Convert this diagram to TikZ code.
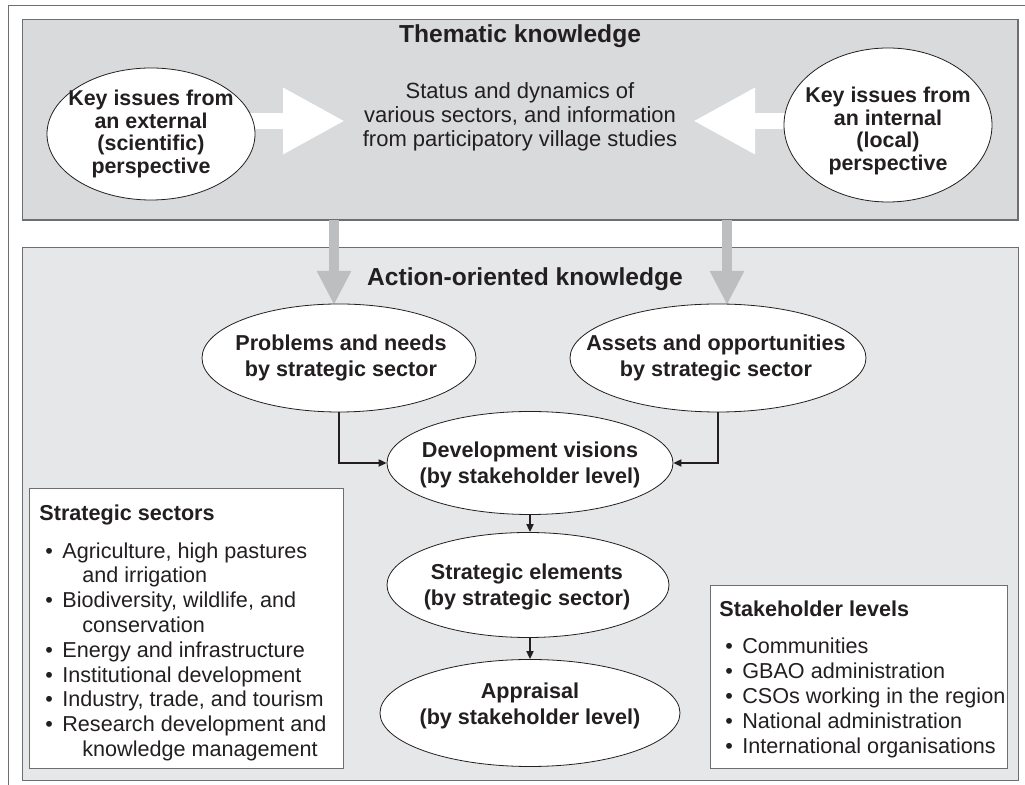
\documentclass[tikz,border=0pt]{standalone}
\usepackage{fontspec}
\setmainfont{Liberation Sans}
\usetikzlibrary{arrows.meta,shapes.geometric}

\definecolor{themfill}{HTML}{D9DADB}
\definecolor{actfill}{HTML}{E6E7E8}
\definecolor{flowgray}{HTML}{BCBEC0}
\definecolor{framegray}{HTML}{6D6E71}
\definecolor{inkdark}{HTML}{231F20}

\newcommand{\bul}{\makebox[8.5pt][l]{\textbullet}}
\newcommand{\cont}{\hspace*{18.5pt}}

\tikzset{
  panel/.style={draw=framegray, line width=0.6pt, inner sep=0pt, anchor=north west},
  bubble/.style={ellipse, draw=inkdark, fill=white, line width=0.4pt, inner sep=0pt},
  bubbletext/.style={align=center, inner sep=0pt, text=inkdark, font=\bfseries\fontsize{10.8pt}{13pt}\selectfont},
  keytext/.style={bubbletext, font=\bfseries\fontsize{10.7pt}{11.4pt}\selectfont},
  heading/.style={text=inkdark, font=\bfseries\fontsize{12.3pt}{14pt}\selectfont},
  listbox/.style={draw=framegray, fill=white, line width=0.5pt, inner sep=0pt, anchor=north west},
  listtext/.style={anchor=north west, align=left, inner sep=0pt, text=inkdark, font=\fontsize{10.8pt}{12.4pt}\selectfont},
  flow/.style={inkdark, line width=0.9pt, -{Triangle[length=4pt,width=3.5pt]}},
  bigflow/.style={flowgray, line width=5pt, -{Triangle[length=17pt,width=16pt]}},
  blockflow/.style={white, line width=8pt, -{Triangle[length=31pt,width=31pt]}},
}

\begin{document}
\begin{tikzpicture}[x=0.5pt, y=-0.5pt]
\useasboundingbox (0,0) rectangle (1025,785);
\draw[framegray, line width=0.5pt] (8,790) -- (8,6) -- (1030,6);

% panels
\node[panel, fill=themfill, minimum width=497.5pt, minimum height=100pt] (thematic) at (22,19) {};
\draw[framegray, line width=1.1pt] (thematic.south west) -- (thematic.south east) -- (thematic.north east);
\node[panel, fill=actfill, minimum width=498pt, minimum height=266.5pt] (action) at (22,247) {};
\node[heading] (themtitle) at (520,36) {Thematic knowledge};
\node[heading] (acttitle) at (525,279) {Action-oriented knowledge};

% thematic knowledge
\coordinate (extpos) at (151,134);
\coordinate (intpos) at (888,125);
\coordinate (exttip) at (345,121);
\coordinate (inttip) at (693,121);
\draw[blockflow] (extpos |- exttip) -- (exttip);
\draw[blockflow] (intpos |- inttip) -- (inttip);
\node[bubble, minimum width=104pt, minimum height=66pt] (external) at (extpos) {};
\node[keytext] (externaltext) at (151,134)
  {Key issues from\\an external\\(scientific)\\perspective};
\node[bubble, minimum width=104pt, minimum height=77pt] (internal) at (intpos) {};
\node[keytext] (internaltext) at (888,131)
  {Key issues from\\an internal\\(local)\\perspective};
\node[align=center, text=inkdark, font=\fontsize{11pt}{12pt}\selectfont] (status) at (520,117)
  {Status and dynamics of\\various sectors, and information\\from participatory village studies};

% action-oriented knowledge
\coordinate (probsin) at (334,305);
\coordinate (assetsin) at (727,305);
\draw[bigflow] (thematic.south -| probsin) -- (probsin);
\draw[bigflow] (thematic.south -| assetsin) -- (assetsin);

\node[bubble, minimum width=137pt, minimum height=54pt] (problems) at (339,358) {};
\node[bubbletext] (problemstext) at (341,358) {Problems and needs\\by strategic sector};
\node[bubble, minimum width=148pt, minimum height=54pt] (assets) at (718,358) {};
\node[bubbletext] (assetstext) at (716,358) {Assets and opportunities\\by strategic sector};
\node[bubble, minimum width=143pt, minimum height=51.5pt] (visions) at (530,463) {};
\node[bubbletext] (visionstext) at (530,465) {Development visions\\(by stakeholder level)};
\node[bubble, minimum width=141pt, minimum height=52.5pt] (elements) at (528,585) {};
\node[bubbletext] (elementstext) at (527,587) {Strategic elements\\(by strategic sector)};
\node[bubble, minimum width=150pt, minimum height=53.5pt] (appraisal) at (530,713) {};
\node[bubbletext] (appraisaltext) at (530,706) {Appraisal\\(by stakeholder level)};

\draw[flow] (problems.south) |- (visions.west);
\draw[flow] (assets.south) |- (visions.east);
\draw[flow] (visions.south) -- (visions.south |- elements.north);
\draw[flow] (elements.south -| visions.south) -- (visions.south |- appraisal.north);

% legends
\node[listbox, minimum width=157pt, minimum height=140pt] (sectors) at (29,488) {};
\node[listtext] (sectorstext) at (39,504)
  {\textbf{Strategic sectors}\\[6.6pt]
   \hspace*{3pt}\bul Agriculture, high pastures\\
   \hspace*{3pt}\cont and irrigation\\
   \hspace*{3pt}\bul Biodiversity, wildlife, and\\
   \hspace*{3pt}\cont conservation\\
   \hspace*{3pt}\bul Energy and infrastructure\\
   \hspace*{3pt}\bul Institutional development\\
   \hspace*{3pt}\bul Industry, trade, and tourism\\
   \hspace*{3pt}\bul Research development and\\
   \hspace*{3pt}\cont knowledge management};
\node[listbox, minimum width=148.5pt, minimum height=91.5pt] (levels) at (710,585) {};
\node[listtext, font=\fontsize{10.8pt}{12.5pt}\selectfont] (levelstext) at (719,600)
  {\textbf{Stakeholder levels}\\[6pt]
   \hspace*{3pt}\bul Communities\\
   \hspace*{3pt}\bul GBAO administration\\
   \hspace*{3pt}\bul CSOs working in the region\\
   \hspace*{3pt}\bul National administration\\
   \hspace*{3pt}\bul International organisations};
\end{tikzpicture}
\end{document}
